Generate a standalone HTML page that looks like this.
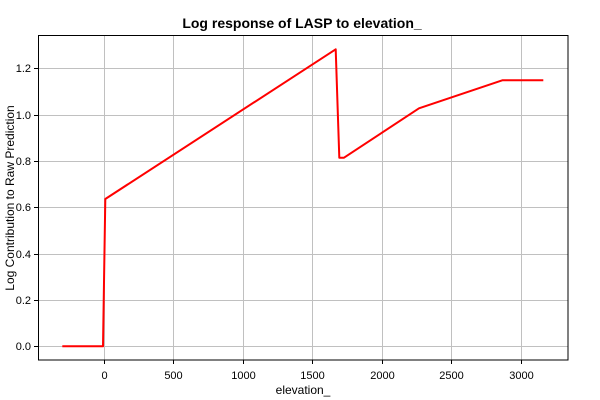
<!DOCTYPE html>
<html><head><style>body{margin:0;background:#fff}svg{display:block}</style></head><body>
<svg width="600" height="400" xmlns="http://www.w3.org/2000/svg" font-family="Liberation Sans, sans-serif">
<rect width="600" height="400" fill="#fff"/>
<text x="302" y="28" text-anchor="middle" font-weight="bold" font-size="14">Log response of LASP to elevation_</text>
<g stroke="#c0c0c0" stroke-width="1">
<line x1="104.5" y1="35" x2="104.5" y2="360"/>
<line x1="173.5" y1="35" x2="173.5" y2="360"/>
<line x1="243.5" y1="35" x2="243.5" y2="360"/>
<line x1="312.5" y1="35" x2="312.5" y2="360"/>
<line x1="382.5" y1="35" x2="382.5" y2="360"/>
<line x1="451.5" y1="35" x2="451.5" y2="360"/>
<line x1="521.5" y1="35" x2="521.5" y2="360"/>
<line x1="38" y1="346.5" x2="568" y2="346.5"/>
<line x1="38" y1="300.5" x2="568" y2="300.5"/>
<line x1="38" y1="254.5" x2="568" y2="254.5"/>
<line x1="38" y1="207.5" x2="568" y2="207.5"/>
<line x1="38" y1="161.5" x2="568" y2="161.5"/>
<line x1="38" y1="115.5" x2="568" y2="115.5"/>
<line x1="38" y1="68.5" x2="568" y2="68.5"/>
</g>
<rect x="38.5" y="35.5" width="529.5" height="324.5" fill="none" stroke="#000" stroke-width="1"/>
<g stroke="#000">
<line x1="34" y1="346.5" x2="38" y2="346.5"/><line x1="34" y1="300.5" x2="38" y2="300.5"/><line x1="34" y1="254.5" x2="38" y2="254.5"/><line x1="34" y1="207.5" x2="38" y2="207.5"/><line x1="34" y1="161.5" x2="38" y2="161.5"/><line x1="34" y1="115.5" x2="38" y2="115.5"/><line x1="34" y1="68.5" x2="38" y2="68.5"/>
<line x1="104.5" y1="360" x2="104.5" y2="364"/><line x1="173.5" y1="360" x2="173.5" y2="364"/><line x1="243.5" y1="360" x2="243.5" y2="364"/><line x1="312.5" y1="360" x2="312.5" y2="364"/><line x1="382.5" y1="360" x2="382.5" y2="364"/><line x1="451.5" y1="360" x2="451.5" y2="364"/><line x1="521.5" y1="360" x2="521.5" y2="364"/>
</g>
<g font-size="11" fill="#000" text-anchor="end">
<text x="31" y="350">0.0</text><text x="31" y="304">0.2</text><text x="31" y="258">0.4</text><text x="31" y="211">0.6</text><text x="31" y="165">0.8</text><text x="31" y="119">1.0</text><text x="31" y="72">1.2</text>
</g>
<g font-size="11" fill="#000" text-anchor="middle">
<text x="104.5" y="379">0</text><text x="173.5" y="379">500</text><text x="243.5" y="379">1000</text><text x="312.5" y="379">1500</text><text x="382.5" y="379">2000</text><text x="451.5" y="379">2500</text><text x="521.5" y="379">3000</text>
</g>
<text x="303" y="394" font-size="12" text-anchor="middle">elevation_</text>
<text transform="translate(14,198) rotate(-90)" font-size="12" text-anchor="middle">Log Contribution to Raw Prediction</text>
<polyline fill="none" stroke="#ff0000" stroke-width="2" stroke-linejoin="round" points="62.3,346.3 103,346.3 105.3,199 335.7,49.3 339.3,157.7 344,157.7 419,108.3 502.3,80.3 543.3,80.3"/>
</svg>
</body></html>
